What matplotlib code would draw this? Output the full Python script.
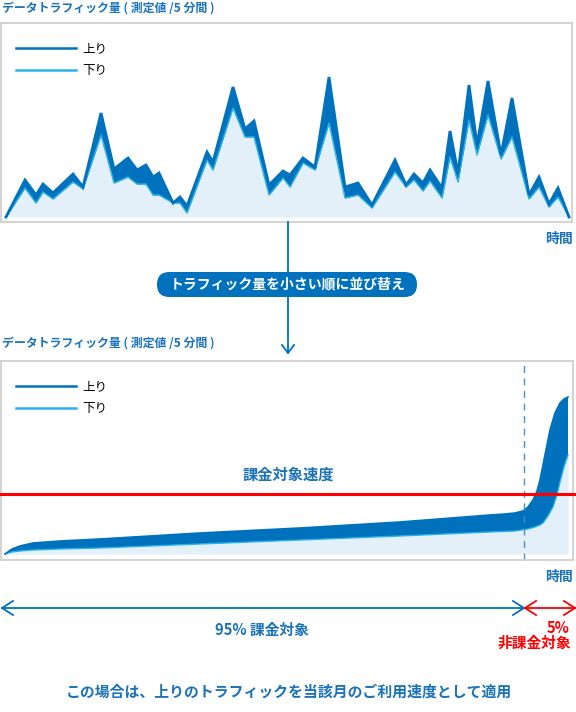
import matplotlib
matplotlib.use("Agg")
import matplotlib.pyplot as plt
from matplotlib.lines import Line2D
from matplotlib.patches import FancyBboxPatch
import matplotlib.transforms as mtransforms

plt.rcParams['font.family'] = ['Noto Sans CJK JP', 'DejaVu Sans']

# time positions and traffic (arbitrary units) for the 5-minute samples
t_top = [6, 25, 36, 43, 53, 73, 83, 101, 114, 128, 137, 146, 153, 159, 173, 180, 187,
         207, 213, 233, 245, 254, 269, 283, 290, 303, 315, 329, 345, 358, 372, 395,
         406, 414, 423, 430, 442, 450, 458, 469, 477, 488, 501, 512, 529, 539, 549,
         558, 569]
up_top = [0, 37, 22, 33, 24, 43, 30, 104, 48, 59, 47, 52, 40, 44, 14, 20, 11,
          65, 55, 130, 88, 96, 32, 46, 42, 59, 50, 140, 30, 34, 12, 57,
          32, 43, 34, 47, 29, 86, 44, 132, 72, 136, 62, 119, 22, 40, 13,
          29, 0]
down_top = [0, 29, 14, 25, 18, 35, 28, 82, 34, 40, 33, 33, 22, 22, 14, 14, 4,
            57, 47, 109, 80, 80, 22, 39, 30, 54, 47, 94, 19, 22, 9, 45,
            30, 37, 26, 36, 19, 60, 35, 97, 62, 102, 58, 80, 18, 30, 10,
            20, 0]

# same traffic sorted from small to large
t_up = [5, 12, 20, 33, 60, 100, 200, 300, 400, 490, 505, 515, 523, 528, 533, 537,
        540, 545, 550, 555, 560, 564, 568]
up_sorted = [0, 5, 8, 11, 13, 15, 21, 26, 32, 39, 40, 41, 43, 47, 54, 63,
             74, 99, 124, 141, 151, 155, 157]
t_down = [5, 12, 20, 33, 60, 100, 200, 300, 400, 490, 515, 528, 535, 540, 543, 548,
          553, 557, 560, 564, 568]
down_sorted = [0, 2, 3, 4, 5, 6, 10, 14, 18, 22, 23, 25, 27, 29, 31, 38,
               47, 59, 72, 87, 99]
billing_speed = 60
cut_95 = 524

labels = ['上り', '下り']
blue = '#0071bc'
cyan = '#29b3e6'
light = '#e3f0f9'
txt_blue = '#1a72b8'
red = '#ff0000'
W, H = 576, 712

fig = plt.figure(figsize=(5.76, 7.12), dpi=100)


def panel(top_px, bottom_px, right_px, ylo, yhi):
    ax = fig.add_axes([1 / W, 1 - bottom_px / H, (right_px - 1) / W, (bottom_px - top_px) / H])
    ax.set_xlim(1, right_px)
    ax.set_ylim(ylo, yhi)
    ax.set_xticks([])
    ax.set_yticks([])
    for s in ax.spines.values():
        s.set_color('#d0d0d0')
        s.set_linewidth(1.3)
    return ax


def legend(ax):
    h = [Line2D([], [], color=blue, lw=1.8), Line2D([], [], color=cyan, lw=1.8)]
    ax.legend(h, labels, loc='upper left', bbox_to_anchor=(0.018, 0.93), frameon=False,
              fontsize=9, handlelength=4.8, handletextpad=0.45, labelspacing=0.75,
              borderaxespad=0)


# top chart
ax1 = panel(23, 222, 572, -5, 194)
ax1.fill_between(t_top, 0, down_top, color=light, lw=0)
ax1.fill_between(t_top, down_top, up_top, color=blue, lw=0)
ax1.plot(t_top, down_top, color=cyan, lw=1.0)
ax1.plot(t_top, up_top, color=blue, lw=2.0, solid_joinstyle='miter')
legend(ax1)

# bottom chart
ax2 = panel(361, 560, 573, -6, 193)
ax2.fill_between(t_down, 0, down_sorted, color=light, lw=0)
ax2.fill(t_up + t_down[::-1], up_sorted + down_sorted[::-1], color=blue, lw=0)
ax2.plot(t_down, down_sorted, color=cyan, lw=1.0)
ax2.plot(t_up, up_sorted, color=blue, lw=1.2)
ax2.axvline(cut_95, color='#4a8fcc', lw=1.0, ls=(0, (5, 4)), clip_on=False)
legend(ax2)
tr = mtransforms.blended_transform_factory(fig.transFigure, ax2.transData)
fig.add_artist(Line2D([0, 1], [billing_speed, billing_speed], transform=tr, color=red, lw=2.2))

# overlay for annotations
ov = fig.add_axes([0, 0, 1, 1], zorder=5)
ov.set_xlim(0, W)
ov.set_ylim(H, 0)
ov.axis('off')

title = 'データトラフィック量 ( 測定値 /5 分間 )'
ov.text(2, 8, title, color=txt_blue, fontsize=8.6, fontweight='bold', va='center')
ov.text(2, 343, title, color=txt_blue, fontsize=8.6, fontweight='bold', va='center')
ov.text(573, 239, '時間', color=txt_blue, fontsize=10, fontweight='bold', va='center', ha='right')
ov.text(573, 577, '時間', color=txt_blue, fontsize=10, fontweight='bold', va='center', ha='right')

# sort arrow + pill
ov.plot([288, 288], [222, 353], color=blue, lw=1.3)
ov.plot([282, 288, 294], [345, 353, 345], color=blue, lw=1.3)
ov.add_patch(FancyBboxPatch((157, 272), 260, 25, boxstyle='round,pad=0,rounding_size=12.5',
                            fc=blue, ec='none'))
ov.text(288, 284.5, 'トラフィック量を小さい順に並び替え', color='white', fontsize=10,
        fontweight='bold', ha='center', va='center')

ov.text(288, 475, '課金対象速度', color=txt_blue, fontsize=11, fontweight='bold',
        ha='center', va='center')

# range arrows
ov.plot([2, cut_95], [608, 608], color=blue, lw=1.3)
ov.plot([13, 2, 13], [601, 608, 615], color=blue, lw=1.3)
ov.plot([cut_95 - 11, cut_95, cut_95 - 11], [601, 608, 615], color=blue, lw=1.3)
ov.plot([cut_95 + 1, 575], [608, 608], color=red, lw=1.3)
ov.plot([cut_95 + 12, cut_95 + 1, cut_95 + 12], [601, 608, 615], color=red, lw=1.3)
ov.plot([564, 575, 564], [601, 608, 615], color=red, lw=1.3)

ov.text(262, 630, '95% 課金対象', color=txt_blue, fontsize=10.6, fontweight='bold',
        ha='center', va='center')
ov.text(570, 628, '5%', color=red, fontsize=10.6, fontweight='bold', ha='right', va='center')
ov.text(571, 643, '非課金対象', color=red, fontsize=10.6, fontweight='bold', ha='right', va='center')
ov.text(289, 692, 'この場合は、上りのトラフィックを当該月のご利用速度として適用', color=txt_blue,
        fontsize=10.7, fontweight='bold', ha='center', va='center')

fig.savefig('out.png', dpi=100)
